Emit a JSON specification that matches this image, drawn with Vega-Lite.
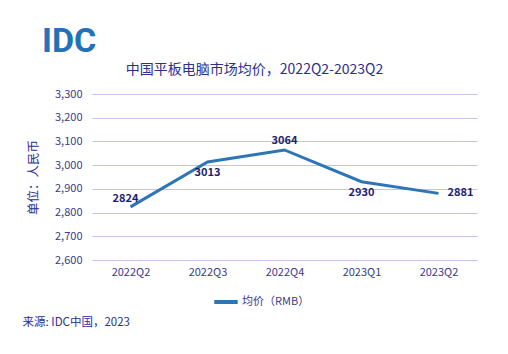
{
  "$schema": "https://vega.github.io/schema/vega-lite/v6.json",
  "width": 385,
  "height": 166,
  "autosize": {"type": "none"},
  "padding": {"left": 92, "top": 94, "right": 31, "bottom": 94},
  "background": "white",
  "title": {"text": "IDC", "orient": "top", "anchor": "start", "frame": "bounds", "font": "Roboto", "fontSize": 34, "fontWeight": "bold", "color": "#2372b9", "offset": 3, "dx": 20},
  "config": {
    "view": {"stroke": null},
    "font": "Noto Sans CJK SC"
  },
  "data": {"values": [
    {"quarter": "2022Q2", "price": 2824},
    {"quarter": "2022Q3", "price": 3013},
    {"quarter": "2022Q4", "price": 3064},
    {"quarter": "2023Q1", "price": 2930},
    {"quarter": "2023Q2", "price": 2881}
  ]},
  "layer": [
    {
      "mark": {"type": "line", "strokeWidth": 3},
      "encoding": {
        "x": {"field": "quarter", "type": "ordinal", "sort": null, "scale": {"type": "point", "padding": 0.5},
          "axis": {"orient": "bottom", "labelAngle": 0, "labelPadding": 6, "labelFontSize": 11, "labelColor": "#3a3a8c", "labelFont": "Noto Sans CJK SC", "domain": false, "ticks": false, "grid": false,
            "title": "来源: IDC中国，2023", "titleX": -70, "titleY": 62, "titleAlign": "left", "titleBaseline": "middle", "titleFontSize": 11.5, "titleFontWeight": "normal", "titleColor": "#2e2e8e", "titleFont": "Noto Sans CJK SC"}},
        "y": {"field": "price", "type": "quantitative", "scale": {"domain": [2600, 3300]},
          "axis": {"values": [2600, 2700, 2800, 2900, 3000, 3100, 3200, 3300], "format": ",.0f", "grid": true, "gridColor": "#c3c3ea", "gridWidth": 1, "domain": false, "ticks": false, "labelPadding": 10, "labelFontSize": 11, "labelColor": "#3a3a8c", "labelFont": "Noto Sans CJK SC",
            "title": "单位：人民币", "titlePadding": 14, "titleFontSize": 12.5, "titleFontWeight": "normal", "titleColor": "#2e2e8e", "titleFont": "Noto Sans CJK SC"}},
        "color": {"datum": "均价（RMB）", "type": "nominal", "scale": {"range": ["#2e75b6"]},
          "legend": {"orient": "none", "legendX": 120, "legendY": 194, "title": null, "symbolType": "stroke", "symbolStrokeWidth": 4, "symbolSize": 550, "labelFontSize": 11, "labelColor": "#3a3a8c", "labelFont": "Noto Sans CJK SC", "labelOffset": 2}}
      }
    },
    {
      "transform": [{"filter": "datum.quarter === '2022Q4'"}],
      "mark": {"type": "text", "fontWeight": "bold", "fontSize": 11, "color": "#1f1f6e", "dy": -9},
      "encoding": {
        "x": {"field": "quarter", "type": "ordinal", "sort": null,
          "axis": {"orient": "top", "labels": false, "ticks": false, "domain": false, "grid": false,
            "title": "中国平板电脑市场均价，2022Q2-2023Q2", "titleX": 162, "titleY": -25, "titleAlign": "center", "titleBaseline": "middle", "titleFontSize": 14, "titleFontWeight": "normal", "titleColor": "#2e2e8e", "titleFont": "Noto Sans CJK SC"}},
        "y": {"field": "price", "type": "quantitative", "axis": null},
        "text": {"field": "price", "type": "quantitative", "format": "d"}
      }
    },
    {
      "transform": [{"filter": "datum.quarter === '2022Q2'"}],
      "mark": {"type": "text", "fontWeight": "bold", "fontSize": 11, "color": "#1f1f6e", "dx": -5, "dy": -8},
      "encoding": {
        "x": {"field": "quarter", "type": "ordinal", "sort": null, "axis": null},
        "y": {"field": "price", "type": "quantitative", "axis": null},
        "text": {"field": "price", "type": "quantitative", "format": "d"}
      }
    },
    {
      "transform": [{"filter": "datum.quarter === '2022Q3' || datum.quarter === '2023Q1'"}],
      "mark": {"type": "text", "fontWeight": "bold", "fontSize": 11, "color": "#1f1f6e", "dy": 11},
      "encoding": {
        "x": {"field": "quarter", "type": "ordinal", "sort": null, "axis": null},
        "y": {"field": "price", "type": "quantitative", "axis": null},
        "text": {"field": "price", "type": "quantitative", "format": "d"}
      }
    },
    {
      "transform": [{"filter": "datum.quarter === '2023Q2'"}],
      "mark": {"type": "text", "fontWeight": "bold", "fontSize": 11, "color": "#1f1f6e", "dx": 9, "align": "left"},
      "encoding": {
        "x": {"field": "quarter", "type": "ordinal", "sort": null, "axis": null},
        "y": {"field": "price", "type": "quantitative", "axis": null},
        "text": {"field": "price", "type": "quantitative", "format": "d"}
      }
    }
  ],
  "resolve": {"axis": {"x": "independent", "y": "independent"}}
}
